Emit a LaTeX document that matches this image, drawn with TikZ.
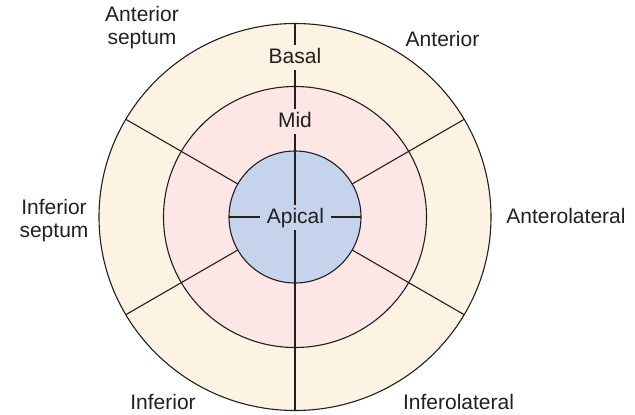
\documentclass[tikz,border=0pt]{standalone}
\usepackage{fontspec}
\setmainfont{Liberation Sans}
\definecolor{basalfill}{RGB}{253,243,227}
\definecolor{midfill}{RGB}{252,230,230}
\definecolor{apicalfill}{RGB}{197,212,236}
\definecolor{inkcol}{RGB}{35,31,32}
\begin{document}
\begin{tikzpicture}[x=1pt,y=-1pt,
  ring/.style={draw=inkcol, line width=1.1pt},
  divider/.style={draw=inkcol, line width=1.1pt},
  lbl/.style={text=inkcol, font=\fontsize{21}{23}\selectfont, inner sep=0pt},
  seglbl/.style={lbl, fill=#1, anchor=base, text height=15pt, text depth=3pt,
                 inner xsep=6.5pt, inner ysep=3.5pt}
]
\useasboundingbox (0,0) rectangle (635,415);
\coordinate (c) at (295,217);

% rings, outside in
\path[ring, fill=basalfill] (c) ellipse [x radius=196pt, y radius=193.5pt];
\path[ring, fill=midfill]   (c) ellipse [x radius=131.5pt, y radius=130.5pt];

% oblique segment boundaries between apex and base
\foreach \a in {30,150,210,330}
  \draw[divider] ([shift={(\a:66pt)}]c) -- ([shift={(\a:195pt)}]c);

\path[ring, fill=apicalfill] (c) circle [radius=66pt];

% vertical and horizontal boundaries
\draw[divider] ([yshift=193.5pt]c) -- ([yshift=-193.5pt]c);
\draw[divider] ([xshift=-66pt]c) -- ([xshift=66pt]c);

% level labels
\node[seglbl=basalfill]  (basal)  at (295,63)    {Basal};
\node[seglbl=midfill]    (mid)    at (295,127.3) {Mid};
\node[seglbl=apicalfill] (apical) at (295.5,223.3) {Apical};

% wall labels
\node[lbl, align=center, anchor=north] (antsep) at (142,6.5) {Anterior\\septum};
\node[lbl, anchor=base] (ant) at (442.5,46) {Anterior};
\node[lbl, align=center, anchor=north] (infsep) at (54,199) {Inferior\\septum};
\node[lbl, anchor=base] (antlat) at (566,223.3) {Anterolateral};
\node[lbl, anchor=base] (inf) at (163,409.3) {Inferior};
\node[lbl, anchor=base] (inflat) at (458.5,409.3) {Inferolateral};
\end{tikzpicture}
\end{document}
